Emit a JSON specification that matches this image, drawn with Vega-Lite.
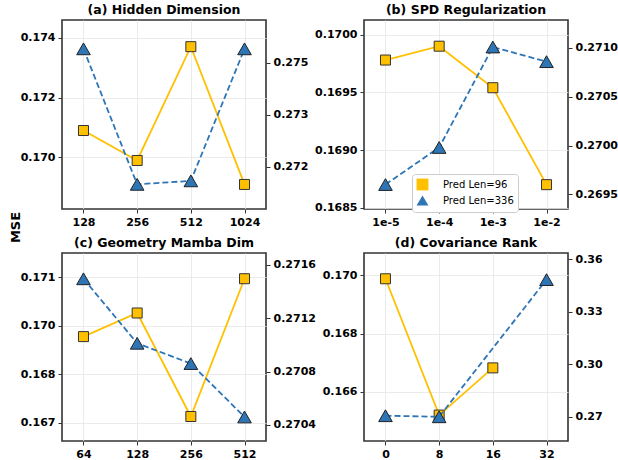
{
  "$schema": "https://vega.github.io/schema/vega-lite/v6.json",
  "padding": {"left": 8, "top": 2, "right": 1, "bottom": 4},
  "background": "white",
  "config": {
    "font": "DejaVu Sans",
    "view": {"stroke": "#333333", "strokeWidth": 1.6},
    "axis": {
      "labelFont": "DejaVu Sans", "labelFontWeight": "bold", "labelFontSize": 11, "labelColor": "#000000",
      "tickColor": "#333333", "tickSize": 4, "tickWidth": 1, "labelPadding": 3,
      "domain": false, "gridColor": "#e6e6e6", "gridWidth": 0.8, "title": null
    },
    "title": {"font": "DejaVu Sans", "fontWeight": "bold", "fontSize": 12.5, "offset": 4, "color": "#000000"}
  },
  "data": {"values": [
    {"panel": "a", "x": "128", "series": "Pred Len=96", "value": 0.1709},
    {"panel": "a", "x": "256", "series": "Pred Len=96", "value": 0.1699},
    {"panel": "a", "x": "512", "series": "Pred Len=96", "value": 0.1737},
    {"panel": "a", "x": "1024", "series": "Pred Len=96", "value": 0.1691},
    {"panel": "a", "x": "128", "series": "Pred Len=336", "value": 0.2749},
    {"panel": "a", "x": "256", "series": "Pred Len=336", "value": 0.2710},
    {"panel": "a", "x": "512", "series": "Pred Len=336", "value": 0.2711},
    {"panel": "a", "x": "1024", "series": "Pred Len=336", "value": 0.2749},
    {"panel": "b", "x": "1e-5", "series": "Pred Len=96", "value": 0.16978},
    {"panel": "b", "x": "1e-4", "series": "Pred Len=96", "value": 0.1699},
    {"panel": "b", "x": "1e-3", "series": "Pred Len=96", "value": 0.16954},
    {"panel": "b", "x": "1e-2", "series": "Pred Len=96", "value": 0.1687},
    {"panel": "b", "x": "1e-5", "series": "Pred Len=336", "value": 0.2696},
    {"panel": "b", "x": "1e-4", "series": "Pred Len=336", "value": 0.26998},
    {"panel": "b", "x": "1e-3", "series": "Pred Len=336", "value": 0.27101},
    {"panel": "b", "x": "1e-2", "series": "Pred Len=336", "value": 0.27086},
    {"panel": "c", "x": "64", "series": "Pred Len=96", "value": 0.16916},
    {"panel": "c", "x": "128", "series": "Pred Len=96", "value": 0.16989},
    {"panel": "c", "x": "256", "series": "Pred Len=96", "value": 0.16669},
    {"panel": "c", "x": "512", "series": "Pred Len=96", "value": 0.17095},
    {"panel": "c", "x": "64", "series": "Pred Len=336", "value": 0.271495},
    {"panel": "c", "x": "128", "series": "Pred Len=336", "value": 0.271012},
    {"panel": "c", "x": "256", "series": "Pred Len=336", "value": 0.27086},
    {"panel": "c", "x": "512", "series": "Pred Len=336", "value": 0.27046},
    {"panel": "d", "x": "0", "series": "Pred Len=96", "value": 0.16988},
    {"panel": "d", "x": "8", "series": "Pred Len=96", "value": 0.1652},
    {"panel": "d", "x": "16", "series": "Pred Len=96", "value": 0.16682},
    {"panel": "d", "x": "0", "series": "Pred Len=336", "value": 0.2706},
    {"panel": "d", "x": "8", "series": "Pred Len=336", "value": 0.2700},
    {"panel": "d", "x": "32", "series": "Pred Len=336", "value": 0.3484}
  ]},
  "columns": 2,
  "spacing": {"row": 44, "column": 98},
  "bounds": "flush",
  "concat": [
    {
      "width": 204, "height": 189,
      "title": "(a) Hidden Dimension",
      "transform": [{"filter": "datum.panel === 'a'"}],
      "encoding": {"x": {"field": "x", "type": "ordinal", "sort": null, "scale": {"type": "point", "padding": 0.4, "domain": ["128", "256", "512", "1024"]}, "axis": {"labelAngle": 0, "grid": true}}},
      "layer": [
        {
          "transform": [{"filter": "datum.series === 'Pred Len=96'"}],
          "encoding": {"y": {"field": "value", "type": "quantitative", "scale": {"domain": [0.16828, 0.17459], "zero": false, "nice": false}, "axis": {"orient": "left", "values": [0.170, 0.172, 0.174], "format": ".3f", "grid": true, "title": "MSE", "titleFontSize": 13, "titleFontWeight": "bold", "titleColor": "#000000", "titleX": -47, "titleY": 207, "titleAngle": 270, "titleAlign": "center", "titleBaseline": "middle"}}},
          "layer": [
            {"mark": {"type": "line", "color": "#FFC000", "strokeWidth": 1.8}, "encoding": {"order": {"value": null}}},
            {"mark": {"type": "point", "shape": "square", "filled": true, "fill": "#FFC000", "stroke": "#333333", "strokeWidth": 1, "size": 100, "opacity": 1}}
          ]
        },
        {
          "transform": [{"filter": "datum.series === 'Pred Len=336'"}],
          "encoding": {"y": {"field": "value", "type": "quantitative", "scale": {"domain": [0.27029, 0.27573], "zero": false, "nice": false}, "axis": {"orient": "right", "values": [0.2715, 0.2730, 0.2745], "labelExpr": "datum.value < 0.272 ? '0.272' : datum.value < 0.274 ? '0.273' : '0.275'", "grid": false}}},
          "layer": [
            {"mark": {"type": "line", "color": "#2E75B6", "strokeWidth": 1.8, "strokeDash": [6, 3]}, "encoding": {"order": {"value": null}}},
            {"mark": {"type": "point", "shape": "triangle-up", "filled": true, "fill": "#2E75B6", "stroke": "#222222", "strokeWidth": 1, "size": 185, "opacity": 1}}
          ]
        }
      ],
      "resolve": {"scale": {"y": "independent"}}
    },
    {
      "width": 204, "height": 189,
      "title": "(b) SPD Regularization",
      "transform": [{"filter": "datum.panel === 'b'"}],
      "encoding": {"x": {"field": "x", "type": "ordinal", "sort": null, "scale": {"type": "point", "padding": 0.4, "domain": ["1e-5", "1e-4", "1e-3", "1e-2"]}, "axis": {"labelAngle": 0, "grid": true}}},
      "layer": [
        {
          "transform": [{"filter": "datum.series === 'Pred Len=96'"}],
          "encoding": {"y": {"field": "value", "type": "quantitative", "scale": {"domain": [0.168489, 0.170127], "zero": false, "nice": false}, "axis": {"orient": "left", "values": [0.1685, 0.1690, 0.1695, 0.1700], "format": ".4f", "grid": true}}},
          "layer": [
            {"mark": {"type": "line", "color": "#FFC000", "strokeWidth": 1.8}, "encoding": {"order": {"value": null}}},
            {"mark": {"type": "point", "filled": true, "stroke": "#333333", "strokeWidth": 1, "size": 100, "opacity": 1},
             "encoding": {
               "shape": {"field": "series", "type": "nominal", "scale": {"domain": ["Pred Len=96", "Pred Len=336"], "range": ["square", "triangle-up"]}, "legend": {"title": null, "orient": "none", "legendX": 350, "legendY": 154, "fillColor": "white", "strokeColor": "#cccccc", "cornerRadius": 3, "padding": 4, "labelFont": "DejaVu Sans", "labelFontSize": 10, "labelFontWeight": "normal", "labelColor": "#000000", "symbolSize": 140, "symbolStrokeColor": "#222222", "symbolStrokeWidth": 1, "rowPadding": 0, "labelOffset": 14}},
               "fill": {"field": "series", "type": "nominal", "scale": {"domain": ["Pred Len=96", "Pred Len=336"], "range": ["#FFC000", "#2E75B6"]}, "legend": {"title": null, "orient": "none", "legendX": 350, "legendY": 154, "fillColor": "white", "strokeColor": "#cccccc", "cornerRadius": 3, "padding": 4, "labelFont": "DejaVu Sans", "labelFontSize": 10, "labelFontWeight": "normal", "labelColor": "#000000", "symbolSize": 140, "symbolStrokeColor": "#222222", "symbolStrokeWidth": 1, "rowPadding": 0, "labelOffset": 14}}
             }}
          ]
        },
        {
          "transform": [{"filter": "datum.series === 'Pred Len=336'"}],
          "encoding": {"y": {"field": "value", "type": "quantitative", "scale": {"domain": [0.269349, 0.271287], "zero": false, "nice": false}, "axis": {"orient": "right", "values": [0.2695, 0.2700, 0.2705, 0.2710], "format": ".4f", "grid": false}}},
          "layer": [
            {"mark": {"type": "line", "color": "#2E75B6", "strokeWidth": 1.8, "strokeDash": [6, 3]}, "encoding": {"order": {"value": null}}},
            {"mark": {"type": "point", "filled": true, "stroke": "#222222", "strokeWidth": 1, "size": 185, "opacity": 1},
             "encoding": {
               "shape": {"field": "series", "type": "nominal", "scale": {"domain": ["Pred Len=96", "Pred Len=336"], "range": ["square", "triangle-up"]}},
               "fill": {"field": "series", "type": "nominal", "scale": {"domain": ["Pred Len=96", "Pred Len=336"], "range": ["#FFC000", "#2E75B6"]}}
             }}
          ]
        }
      ],
      "resolve": {"scale": {"y": "independent"}}
    },
    {
      "width": 204, "height": 188,
      "title": "(c) Geometry Mamba Dim",
      "transform": [{"filter": "datum.panel === 'c'"}],
      "encoding": {"x": {"field": "x", "type": "ordinal", "sort": null, "scale": {"type": "point", "padding": 0.4, "domain": ["64", "128", "256", "512"]}, "axis": {"labelAngle": 0, "grid": true}}},
      "layer": [
        {
          "transform": [{"filter": "datum.series === 'Pred Len=96'"}],
          "encoding": {"y": {"field": "value", "type": "quantitative", "scale": {"domain": [0.165932, 0.171745], "zero": false, "nice": false}, "axis": {"orient": "left", "values": [0.1665, 0.1680, 0.1695, 0.1710], "labelExpr": "datum.value < 0.167 ? '0.167' : datum.value < 0.169 ? '0.168' : datum.value < 0.1705 ? '0.170' : '0.171'", "grid": true}}},
          "layer": [
            {"mark": {"type": "line", "color": "#FFC000", "strokeWidth": 1.8}, "encoding": {"order": {"value": null}}},
            {"mark": {"type": "point", "shape": "square", "filled": true, "fill": "#FFC000", "stroke": "#333333", "strokeWidth": 1, "size": 100, "opacity": 1}}
          ]
        },
        {
          "transform": [{"filter": "datum.series === 'Pred Len=336'"}],
          "encoding": {"y": {"field": "value", "type": "quantitative", "scale": {"domain": [0.27028, 0.271688], "zero": false, "nice": false}, "axis": {"orient": "right", "values": [0.2704, 0.2708, 0.2712, 0.2716], "format": ".4f", "grid": false}}},
          "layer": [
            {"mark": {"type": "line", "color": "#2E75B6", "strokeWidth": 1.8, "strokeDash": [6, 3]}, "encoding": {"order": {"value": null}}},
            {"mark": {"type": "point", "shape": "triangle-up", "filled": true, "fill": "#2E75B6", "stroke": "#222222", "strokeWidth": 1, "size": 185, "opacity": 1}}
          ]
        }
      ],
      "resolve": {"scale": {"y": "independent"}}
    },
    {
      "width": 204, "height": 188,
      "title": "(d) Covariance Rank",
      "transform": [{"filter": "datum.panel === 'd'"}],
      "encoding": {"x": {"field": "x", "type": "ordinal", "sort": null, "scale": {"type": "point", "padding": 0.4, "domain": ["0", "8", "16", "32"]}, "axis": {"labelAngle": 0, "grid": true}}},
      "layer": [
        {
          "transform": [{"filter": "datum.series === 'Pred Len=96'"}],
          "encoding": {"y": {"field": "value", "type": "quantitative", "scale": {"domain": [0.164309, 0.170765], "zero": false, "nice": false}, "axis": {"orient": "left", "values": [0.166, 0.168, 0.170], "format": ".3f", "grid": true}}},
          "layer": [
            {"mark": {"type": "line", "color": "#FFC000", "strokeWidth": 1.8}, "encoding": {"order": {"value": null}}},
            {"mark": {"type": "point", "shape": "square", "filled": true, "fill": "#FFC000", "stroke": "#333333", "strokeWidth": 1, "size": 100, "opacity": 1}}
          ]
        },
        {
          "transform": [{"filter": "datum.series === 'Pred Len=336'"}],
          "encoding": {"y": {"field": "value", "type": "quantitative", "scale": {"domain": [0.25615, 0.3636], "zero": false, "nice": false}, "axis": {"orient": "right", "values": [0.27, 0.30, 0.33, 0.36], "format": ".2f", "grid": false}}},
          "layer": [
            {"mark": {"type": "line", "color": "#2E75B6", "strokeWidth": 1.8, "strokeDash": [6, 3]}, "encoding": {"order": {"value": null}}},
            {"mark": {"type": "point", "shape": "triangle-up", "filled": true, "fill": "#2E75B6", "stroke": "#222222", "strokeWidth": 1, "size": 185, "opacity": 1}}
          ]
        }
      ],
      "resolve": {"scale": {"y": "independent"}}
    }
  ]
}
